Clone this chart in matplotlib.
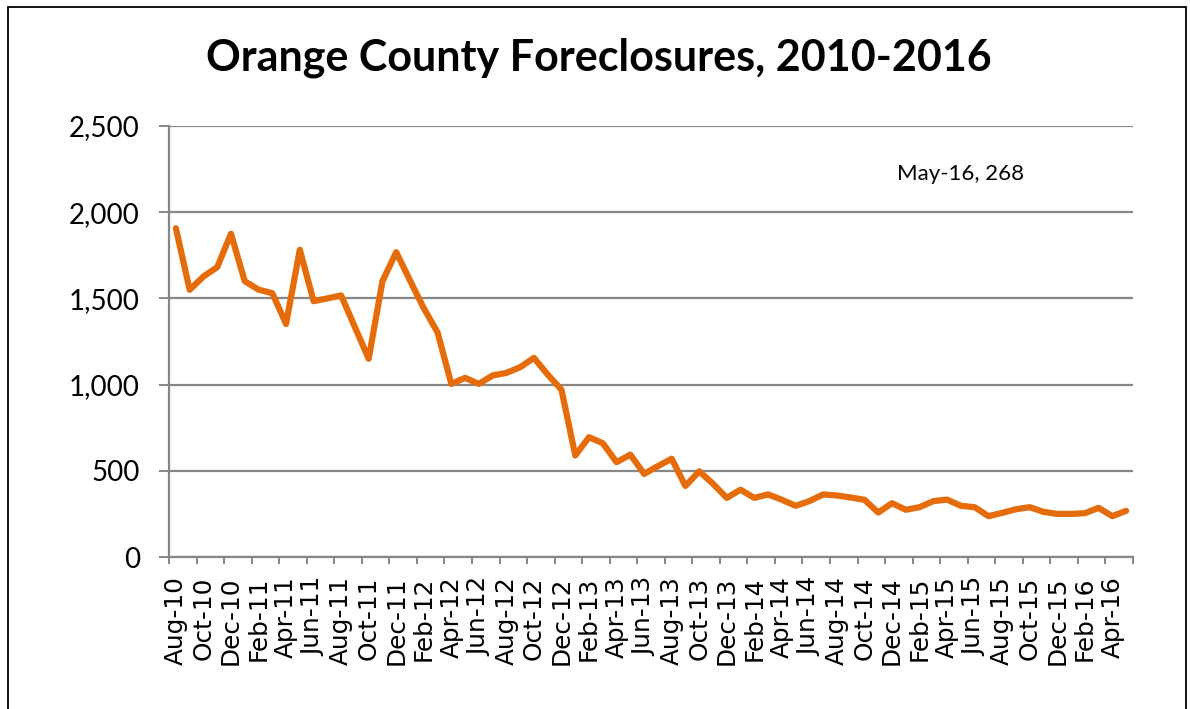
import matplotlib
matplotlib.use("Agg")
import matplotlib.pyplot as plt
import pandas as pd
from matplotlib.patches import Rectangle
from matplotlib.ticker import FuncFormatter, FixedLocator

# Monthly foreclosure counts, Aug 2010 .. May 2016
months = list(pd.date_range("2010-08-01", periods=70, freq="MS").strftime("%b-%y"))
foreclosures = [
    1907, 1550, 1627, 1681, 1875, 1600, 1551, 1530, 1352, 1782,
    1484, 1500, 1517, 1333, 1150, 1600, 1768, 1604, 1443, 1303,
    1004, 1039, 1004, 1053, 1068, 1101, 1155, 1058, 970, 589,
    695, 660, 550, 594, 482, 527, 570, 412, 497, 425,
    343, 390, 343, 363, 332, 297, 324, 363, 357, 345,
    332, 258, 312, 274, 289, 324, 333, 297, 289, 237,
    256, 277, 289, 262, 250, 250, 254, 285, 237, 268,
]
y_ticks = [0, 500, 1000, 1500, 2000, 2500]
title = "Orange County Foreclosures, 2010-2016"

LINE = "#E46C0A"
GRID = "#878787"

fig = plt.figure(figsize=(11.9, 7.09), dpi=100)
ax = fig.add_axes([169 / 1190, 1 - 557 / 709, (1133 - 169) / 1190, (557 - 126) / 709])

x = list(range(len(foreclosures)))
ax.plot(x, foreclosures, color=LINE, lw=4.5, solid_joinstyle="round",
        solid_capstyle="round", zorder=3)

ax.set_xlim(-0.5, len(foreclosures) - 0.5)
ax.set_ylim(y_ticks[0], y_ticks[-1])

# y axis
ax.set_yticks(y_ticks)
ax.yaxis.set_major_formatter(FuncFormatter(lambda v, p: f"{int(v):,}"))
ax.grid(axis="y", color=GRID, lw=1.6, zorder=1)
ax.tick_params(axis="y", direction="out", length=7, width=1.4, color=GRID,
               pad=14, labelsize=20)
for lab in ax.get_yticklabels():
    lab.set_family("Lato")

# x axis: labels every other month, marks between categories
label_pos = list(range(0, len(months), 2))
ax.xaxis.set_major_locator(FixedLocator(label_pos))
ax.set_xticklabels([months[i] for i in label_pos], rotation=90,
                   family="DejaVu Sans", fontsize=17.8)
ax.tick_params(axis="x", which="major", length=0, pad=14)
mark_pos = [p - 0.5 for p in label_pos] + [len(months) - 0.5]
ax.xaxis.set_minor_locator(FixedLocator(mark_pos))
ax.tick_params(axis="x", which="minor", direction="out", length=5, width=1.4,
               color=GRID)

for side in ("top", "right"):
    ax.spines[side].set_visible(False)
for side in ("left", "bottom"):
    ax.spines[side].set_color(GRID)
    ax.spines[side].set_linewidth(1.6)
    ax.spines[side].set_zorder(2)

# data label for the latest month
ax.annotate(f"{months[-1]}, {foreclosures[-1]}",
            xy=(x[-1], foreclosures[-1]), xytext=(57.0, 2224),
            textcoords="data", ha="center", va="center",
            fontsize=16, family="Lato")

fig.text(599 / 1190, 1 - 58 / 709, title, ha="center", va="center",
         fontsize=31, fontweight="bold", family="Lato")

# chart-area border
fig.add_artist(Rectangle((8 / 1190, -0.05), (1186 - 8) / 1190, 1.05 - 6.5 / 709,
                         transform=fig.transFigure, fill=False,
                         edgecolor="black", lw=1.3))

fig.savefig("out.png", dpi=100)
